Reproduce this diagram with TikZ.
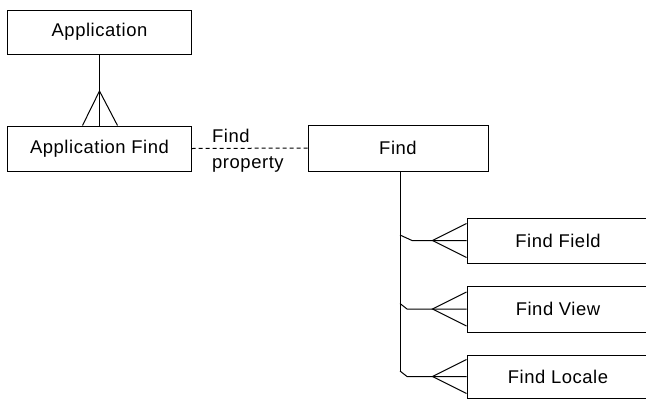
\documentclass[tikz,border=0pt]{standalone}
\usepackage{fontspec}
\setmainfont{Liberation Sans}[LetterSpace=3]
\usetikzlibrary{calc}
\begin{document}
\begin{tikzpicture}[x=1bp,y=-1bp,
  ent/.style={draw=black,line width=1bp,fill=white,rectangle,inner sep=0pt,
    font=\fontsize{18.5}{22}\selectfont},
  conn/.style={draw=black,line width=1bp},
  relline/.style={draw=black,line width=1bp,dash pattern=on 4bp off 3bp},
  lbl/.style={font=\fontsize{18.5}{26}\selectfont,inner sep=0pt,align=left,anchor=north west}]
\useasboundingbox (0,0) rectangle (646,399);
\clip (0,0) rectangle (646,399);
% entities
\node[ent,minimum width=183bp,minimum height=44bp] (app) at (99.5,32) {Application};
\node[ent,minimum width=183bp,minimum height=45bp] (appfind) at (99.5,148.5) {Application Find};
\node[ent,minimum width=180bp,minimum height=46bp] (find) at (398,148) {Find};
\node[ent,minimum width=182bp,minimum height=45bp] (field) at (558,240.5) {Find Field};
\node[ent,minimum width=182bp,minimum height=46bp] (view) at (558,309) {Find View};
\node[ent,minimum width=182bp,minimum height=43bp] (locale) at (558,376.5) {Find Locale};
% Application -- Application Find (crow's foot)
\coordinate (apex1) at (99.5,91);
\draw[conn] (app.south) -- (appfind.north);
\draw[conn] ($(appfind.north)+(-17,0)$) -- (apex1) -- ($(appfind.north)+(18,0)$);
% Find property relationship
\draw[relline] (appfind.east) -- (find.west);
\node[lbl] (proplbl) at (212,129) {Find\\property};
% Find -- children
\coordinate (vtop) at (400,171);
\coordinate (vbot) at (400,372);
\draw[conn] (vtop) -- (vbot);
\foreach \c/\kx in {field/412,view/407,locale/407}{
  \coordinate (k\c) at (400,0 |- {\c}.west);
  \coordinate (apex\c) at ($(\c.west)+(-34,0)$);
  \draw[conn] ($(k\c)+(0,-5.5)$) -- ($(\kx,0 |- \c.west)$) -- (apex\c) -- (\c.west);
  \draw[conn] ($(\c.west)+(0,-17)$) -- (apex\c) -- ($(\c.west)+(0,17)$);
}
\end{tikzpicture}
\end{document}
